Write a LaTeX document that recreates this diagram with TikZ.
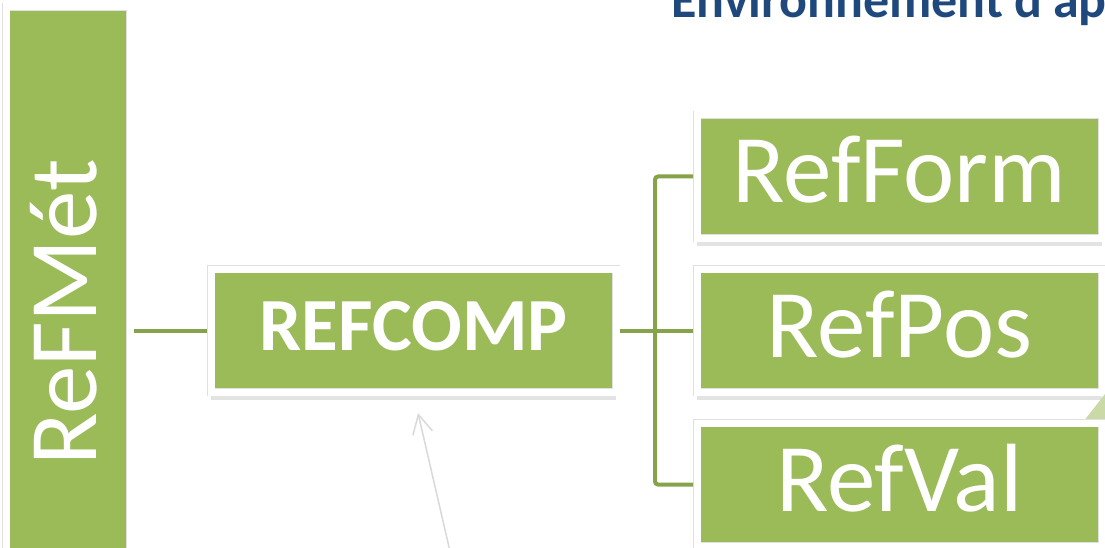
\documentclass[tikz,border=0pt]{standalone}
\usepackage{fontspec}
\setmainfont{Carlito}
\usetikzlibrary{arrows.meta,shadows}
\definecolor{leafgreen}{HTML}{9BBB59}
\definecolor{branchgreen}{HTML}{86A34B}
\definecolor{titleblue}{HTML}{1F497D}
\definecolor{pointergray}{HTML}{D9D9D9}
\definecolor{palegreen}{HTML}{C9DAA7}

\begin{document}
\begin{tikzpicture}[x=1pt,y=-1pt]
\tikzstyle{frame}=[fill=leafgreen, draw=black!12, double=white, double distance=7pt, line width=0.5pt, outer sep=4pt, inner sep=0pt, text=white, minimum width=405pt, minimum height=123pt, font=\fontsize{97}{100}\selectfont, text height=73pt, text depth=20pt]
\tikzstyle{box}=[frame, drop shadow={shadow xshift=0pt, shadow yshift=-8pt, opacity=0.22}]
\tikzstyle{branch}=[draw=branchgreen, line width=4pt]
\path[use as bounding box, clip] (0,0) rectangle (1105,548);
\fill[white] (0,0) rectangle (1105,548);
\node (title) [anchor=base west, text=titleblue, font=\fontsize{52}{60}\selectfont\bfseries] at (668,18) {Environnement d'ap};
% tree
\node (refmet) [frame, rotate=90, minimum width=611pt, minimum height=124pt, text depth=16pt] at (68,312.5) {ReFMét};
\node (refcomp) [box, font=\fontsize{75}{80}\selectfont\bfseries, text height=56pt, text depth=17pt] at (413.5,330.5) {REFCOMP};
\node (refform) [box] at (899.5,176.5) {RefForm};
\node (refpos) [box] at (899.5,330.5) {RefPos};
\fill[palegreen] (1105,394) -- (1080,426) -- (1105,426) -- cycle;
\node (refval) [box] at (899.5,484.5) {RefVal};
\draw[branch] (refmet.south |- refcomp.west) -- (refcomp.west);
\draw[branch] (refcomp.east) -- (refpos.west);
\draw[branch, rounded corners=3pt] (refform.west) -- ++(-38,0) |- (refval.west);
% pointer
\coordinate (pointer) at (418,413);
\coordinate (pointerbase) at (452,560);
\draw[pointergray, line width=1.5pt, -{Straight Barb[length=19pt,width=20pt]}] (pointerbase) -- (pointer);
\end{tikzpicture}
\end{document}
